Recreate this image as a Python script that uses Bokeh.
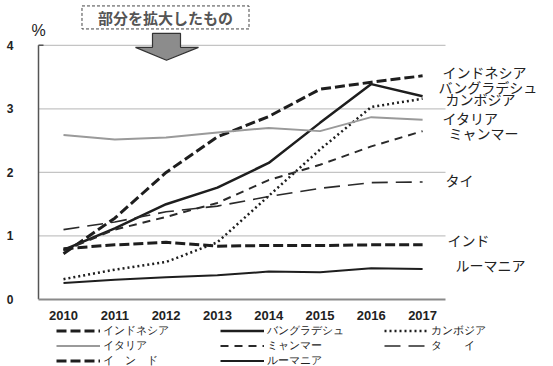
from bokeh.plotting import figure
from bokeh.models import Legend, LegendItem, Label, FixedTicker
from bokeh.layouts import column
from bokeh.core.properties import value
from bokeh.embed import file_html
from bokeh.resources import INLINE

# ---- data -------------------------------------------------------------
years = [2010, 2011, 2012, 2013, 2014, 2015, 2016, 2017]

indonesia = [0.72, 1.28, 2.00, 2.56, 2.88, 3.31, 3.42, 3.52]
bangladesh = [0.78, 1.12, 1.50, 1.76, 2.15, 2.78, 3.39, 3.20]
cambodia = [0.32, 0.47, 0.59, 0.90, 1.63, 2.36, 3.03, 3.16]
italy = [2.59, 2.52, 2.55, 2.63, 2.70, 2.65, 2.87, 2.83]
myanmar = [0.77, 1.10, 1.30, 1.52, 1.88, 2.12, 2.41, 2.65]
thai = [1.10, 1.22, 1.38, 1.47, 1.62, 1.75, 1.84, 1.85]
india = [0.80, 0.86, 0.90, 0.84, 0.85, 0.85, 0.86, 0.86]
romania = [0.26, 0.31, 0.35, 0.38, 0.44, 0.43, 0.49, 0.48]

series_names = ["インドネシア", "バングラデシュ", "カンボジア", "イタリア",
                "ミャンマー", "タイ", "インド", "ルーマニア"]
legend_names = ["インドネシア", "バングラデシュ", "カンボジア", "イタリア",
                "ミャンマー", "タ　　イ", "イ　ン　ド", "ルーマニア"]
y_ticks = [0, 1, 2, 3, 4]

# ---- geometry ---------------------------------------------------------
W = 553
MAIN_H, LEG_H = 322, 44
LEFT, BOTTOM = 28, 22
AXIS_PX = 38          # horizontal pixel of the value axis line
TOP_GRID_PX = 45      # vertical pixel of the highest grid line
XPX = 51.3            # pixels per year
frame_w = W - LEFT
frame_h = MAIN_H - BOTTOM
YPX = (frame_h - TOP_GRID_PX) / y_ticks[-1]   # pixels per percentage point
x0 = years[0] - (63 - LEFT) / XPX
x1 = x0 + frame_w / XPX
y0 = 0.0
y1 = frame_h / YPX


def sx(px):
    return x0 + (px - LEFT) / XPX


def sy(py):
    return (frame_h - py) / YPX


x_axis_start = sx(AXIS_PX)
x_plot_end = sx(445)     # right end of the plotting area

FONT = "Noto Sans CJK JP"

p = figure(width=W, height=MAIN_H, output_backend="svg", toolbar_location=None,
           x_range=(x0, x1), y_range=(y0, y1),
           min_border_left=LEFT, min_border_right=0, min_border_top=0,
           min_border_bottom=BOTTOM)
p.outline_line_color = None
p.xgrid.visible = False
p.ygrid.visible = False
p.background_fill_color = "white"
p.border_fill_color = "white"

# horizontal grid lines that stop at the plot area edge
grid_vals = y_ticks[1:]
p.segment(x0=[x_axis_start] * len(grid_vals), x1=[x_plot_end] * len(grid_vals),
          y0=grid_vals, y1=grid_vals, line_color="#c4c4c4", line_width=1.2)

# value axis: labels from the axis, the line itself drawn at the plot edge
p.yaxis.ticker = FixedTicker(ticks=y_ticks)
p.yaxis.axis_line_color = None
p.yaxis.major_tick_line_color = None
p.yaxis.minor_tick_line_color = None
p.yaxis.major_label_standoff = 9
p.yaxis.major_label_text_font = "Liberation Sans"
p.yaxis.major_label_text_font_style = "bold"
p.yaxis.major_label_text_font_size = "12px"
p.yaxis.major_label_text_color = "#222222"
p.segment(x0=[x_axis_start], x1=[x_axis_start], y0=[y_ticks[0]], y1=[y_ticks[-1]],
          line_color="#555555", line_width=1.5)
p.segment(x0=[x_axis_start], x1=[sx(AXIS_PX + 5)], y0=[y_ticks[-1]], y1=[y_ticks[-1]],
          line_color="#555555", line_width=1.5)

p.xaxis.ticker = FixedTicker(ticks=years)
p.xaxis.bounds = (x_axis_start, x_plot_end)
p.xaxis.axis_line_color = "#8a8a8a"
p.xaxis.axis_line_width = 2
p.xaxis.major_tick_line_color = None
p.xaxis.minor_tick_line_color = None
p.xaxis.major_label_standoff = 5
p.xaxis.major_label_text_font = "Liberation Sans"
p.xaxis.major_label_text_font_style = "bold"
p.xaxis.major_label_text_font_size = "13px"
p.xaxis.major_label_text_color = "#222222"

# ---- series -----------------------------------------------------------
styles = [
    dict(line_color="#1e1e1e", line_width=3, line_dash="10 4"),    # Indonesia
    dict(line_color="#1e1e1e", line_width=2.5),                     # Bangladesh
    dict(line_color="#1e1e1e", line_width=2.5, line_dash="2 3"),    # Cambodia
    dict(line_color="#9a9a9a", line_width=2),                       # Italy
    dict(line_color="#2a2a2a", line_width=2, line_dash="8 6"),      # Myanmar
    dict(line_color="#2a2a2a", line_width=1.6, line_dash="16 8"),   # Thai
    dict(line_color="#1e1e1e", line_width=3, line_dash="10 4"),     # India
    dict(line_color="#1e1e1e", line_width=2),                       # Romania
]
all_series = [indonesia, bangladesh, cambodia, italy, myanmar, thai, india, romania]

for vals, st in zip(all_series, styles):
    p.line(years, vals, **st)

# series names to the right of the lines
label_y = [3.58, 3.35, 3.15, 2.86, 2.62, 1.88, 0.94, 0.54]
label_dx = [20, 16, 23, 20, 26, 23, 25, 33]
p.text(x=[years[-1]] * len(series_names), y=label_y, text=series_names,
       x_offset=label_dx, text_font=value(FONT), text_font_size="14px",
       text_color="#222222", text_baseline="middle", text_align="left")

# "%" unit label
p.add_layout(Label(x=x_axis_start, y=sy(30), text="%", text_font="Liberation Sans",
                   text_font_size="16px", text_color="#222222",
                   text_align="center", text_baseline="middle"))

# boxed note and downward arrow
p.add_layout(Label(x=sx(165), y=sy(17), text="部分を拡大したもの",
                   text_font=FONT, text_font_size="15px", text_font_style="bold",
                   text_color="#555555", text_align="center",
                   text_baseline="middle",
                   border_line_color="#444444", border_line_dash="3 2",
                   border_line_width=1, padding=(16, 16, 1, 1),
                   background_fill_color="white"))

arrow_px = [(152, 33), (180, 33), (180, 47), (198, 47), (166, 60),
            (135, 47), (152, 47)]
p.patch([sx(a) for a, _ in arrow_px], [sy(b) for _, b in arrow_px],
        fill_color="#8c8c8c", line_color="#333333", line_width=1.2)

# ---- legend strip under the axis --------------------------------------
leg = figure(width=W, height=LEG_H, output_backend="svg", toolbar_location=None,
             x_range=(0, 1), y_range=(0, 1), x_axis_type=None, y_axis_type=None,
             min_border=0)
leg.outline_line_color = None
leg.xgrid.visible = False
leg.ygrid.visible = False

# key lines sit outside the visible range; only their legend swatches show
key_renderers = [leg.line(x=[5, 6], y=[5, 6], **st) for st in styles]
items = [LegendItem(label=n, renderers=[r]) for n, r in zip(legend_names, key_renderers)]
legend = Legend(items=items, orientation="horizontal", ncols=3,
                glyph_width=44, glyph_height=13, label_height=13,
                label_width=117, label_standoff=3, spacing=0, padding=0,
                margin=0, location=(28, -2),
                label_text_font="Liberation Sans", label_text_font_size="11px",
                label_text_color="#222222",
                border_line_color=None, background_fill_alpha=0)
leg.add_layout(legend)

layout = column(p, leg, spacing=0)
open("out.html", "w").write(file_html(layout, INLINE))
